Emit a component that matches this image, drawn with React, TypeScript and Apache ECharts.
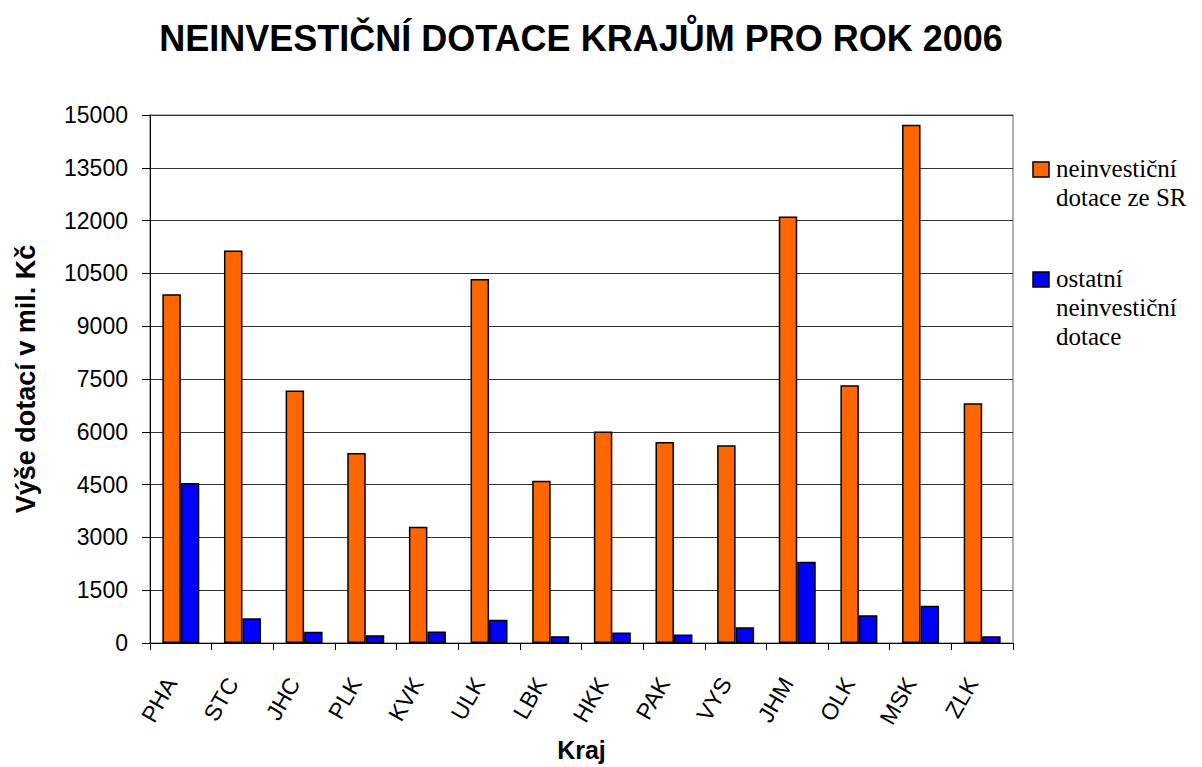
import React, { useEffect, useRef } from "react";
import * as echarts from "echarts";

const categories = ["PHA", "STC", "JHC", "PLK", "KVK", "ULK", "LBK", "HKK", "PAK", "VYS", "JHM", "OLK", "MSK", "ZLK"];
const stateSubsidy = [9910, 11150, 7170, 5400, 3300, 10340, 4610, 6010, 5710, 5620, 12120, 7320, 14720, 6810];
const otherSubsidy = [4545, 700, 320, 220, 324, 660, 195, 295, 245, 445, 2310, 790, 1060, 190];
const seriesNames = ["neinvestiční dotace ze SR", "ostatní neinvestiční dotace"];
const legendLines = [["neinvestiční", "dotace ze SR"], ["ostatní", "neinvestiční", "dotace"]];
const colors = ["#FF6600", "#0000FF"];

export default function App() {
  const ref = useRef<HTMLDivElement>(null);
  useEffect(() => {
    if (!ref.current) return;
    const chart = echarts.init(ref.current, undefined, { renderer: "svg" });
    const serif = "'Liberation Serif', 'Times New Roman', serif";
    const sans = "'Liberation Sans', Arial, sans-serif";
    const legendGraphics: any[] = [];
    const legendTops = [162, 272];
    legendLines.forEach((lines, i) => {
      legendGraphics.push({
        type: "rect",
        shape: { x: 1033, y: legendTops[i], width: 16, height: 15 },
        style: { fill: colors[i], stroke: "#000", lineWidth: 1.5 },
      });
      legendGraphics.push({
        type: "text",
        x: 1056,
        y: legendTops[i] - 8,
        style: {
          text: lines.join("\n"),
          font: `25px ${serif}`,
          fill: "#000",
          lineHeight: 29,
        },
      });
    });
    chart.setOption({
      animation: false,
      backgroundColor: "#fff",
      title: {
        text: "NEINVESTIČNÍ DOTACE KRAJŮM PRO ROK 2006",
        left: 576,
        textAlign: "center",
        top: 15,
        textStyle: { fontFamily: sans, fontWeight: "bold", fontSize: 36, color: "#000" },
      },
      grid: {
        left: 150,
        right: 189,
        top: 115,
        bottom: 123,
        show: true,
        borderColor: "#999",
        borderWidth: 1.5,
      },
      xAxis: {
        type: "category",
        data: categories,
        name: "Kraj",
        nameLocation: "middle",
        nameGap: 94,
        nameTextStyle: { fontFamily: sans, fontWeight: "bold", fontSize: 25, color: "#000" },
        axisLine: { lineStyle: { color: "#000", width: 1 } },
        axisTick: { show: true, length: 7, lineStyle: { color: "#000" } },
        axisLabel: {
          rotate: 60,
          fontFamily: sans,
          fontSize: 23,
          color: "#000",
          margin: 42,
          interval: 0,
          verticalAlign: "bottom",
        },
      },
      yAxis: {
        type: "value",
        min: 0,
        max: 15000,
        interval: 1500,
        name: "Výše dotací v mil. Kč",
        nameLocation: "middle",
        nameGap: 111,
        nameTextStyle: { fontFamily: sans, fontWeight: "bold", fontSize: 27, color: "#000" },
        axisLine: { show: true, lineStyle: { color: "#000", width: 1 } },
        axisTick: { show: true, length: 8, lineStyle: { color: "#000" } },
        axisLabel: { fontFamily: sans, fontSize: 23, color: "#000", margin: 22, formatter: (v: number) => String(v) },
        splitLine: { show: true, lineStyle: { color: "#333", width: 1 } },
      },
      series: [
        {
          name: seriesNames[0],
          type: "bar",
          data: stateSubsidy,
          barGap: "0%",
          barCategoryGap: "40%",
          itemStyle: { color: colors[0], borderColor: "#000", borderWidth: 1.5 },
        },
        {
          name: seriesNames[1],
          type: "bar",
          data: otherSubsidy,
          barGap: "0%",
          barCategoryGap: "40%",
          itemStyle: { color: colors[1], borderColor: "#000", borderWidth: 1.5 },
        },
      ],
      graphic: legendGraphics,
    });
    return () => chart.dispose();
  }, []);
  return <div ref={ref} style={{ position: "absolute", left: 0, top: 0, width: 1202, height: 767 }} />;
}
